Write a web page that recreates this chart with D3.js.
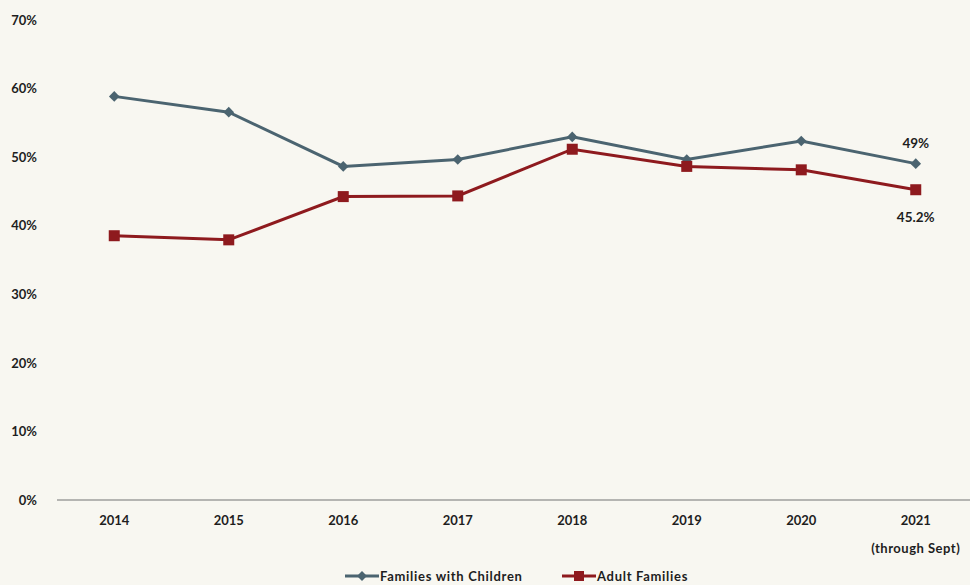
<!DOCTYPE html>
<html>
<head>
<meta charset="utf-8">
<script src="https://cdn.jsdelivr.net/npm/d3@7"></script>
<style>
  html, body { margin: 0; padding: 0; background: #f8f7f1; }
  svg { display: block; }
  text { font-family: Lato, "Open Sans", sans-serif; font-weight: 700; fill: #1e1e1e; }
</style>
</head>
<body>
<svg id="chart" width="970" height="585"></svg>
<script>
const years = ["2014", "2015", "2016", "2017", "2018", "2019", "2020", "2021"];
const familiesWithChildren = [58.8, 56.5, 48.6, 49.6, 52.9, 49.6, 52.3, 49];
const adultFamilies = [38.5, 37.9, 44.2, 44.3, 51.1, 48.6, 48.1, 45.2];
const yTicks = [0, 10, 20, 30, 40, 50, 60, 70];
const seriesNames = ["Families with Children", "Adult Families"];
const seriesColors = ["#4b6470", "#8e1a1e"];

const svg = d3.select("#chart");
const margin = { left: 57, right: -3, top: 20, bottom: 85 };
const W = 970, H = 585;

const x = d3.scaleBand().domain(years).range([margin.left, W - margin.right]);
const y = d3.scaleLinear().domain([0, 70]).range([500, 19.5]);

// Y axis labels (no axis line)
const yAxis = d3.axisLeft(y).tickValues(yTicks).tickFormat(d => d + "%").tickSize(0);
const gy = svg.append("g").attr("transform", "translate(40,0)").call(yAxis);
gy.select(".domain").remove();
gy.selectAll("text").attr("font-size", 13).attr("dx", 0).attr("dy", "0.35em");

// X axis baseline and labels
const xAxis = d3.axisBottom(x).tickSize(0).tickPadding(16);
const gx = svg.append("g").attr("transform", "translate(0,500)").call(xAxis);
gx.select(".domain").attr("stroke", "#b5b5b2").attr("stroke-width", 2)
  .attr("d", `M${margin.left},0H${W}`);
gx.selectAll("text").attr("font-size", 13);
gx.append("text")
  .attr("x", x("2021") + x.bandwidth() / 2)
  .attr("y", 53)
  .attr("text-anchor", "middle")
  .attr("font-size", 13)
  .attr("letter-spacing", 0.5)
  .text("(through Sept)");

const cx = d => x(d) + x.bandwidth() / 2;
const line = d3.line().x(d => cx(d.year)).y(d => y(d.value));

const series = [familiesWithChildren, adultFamilies].map((vals, i) => ({
  name: seriesNames[i],
  color: seriesColors[i],
  points: years.map((yr, j) => ({ year: yr, value: vals[j] }))
}));

// Lines
series.forEach(s => {
  svg.append("path")
    .datum(s.points)
    .attr("fill", "none")
    .attr("stroke", s.color)
    .attr("stroke-width", 3)
    .attr("d", line);
});

// Diamond markers: squares rotated by 45 degrees
const dSide = 7.5;
svg.append("g").selectAll("rect")
  .data(series[0].points)
  .join("rect")
  .attr("x", -dSide / 2).attr("y", -dSide / 2)
  .attr("width", dSide).attr("height", dSide)
  .attr("transform", d => `translate(${cx(d.year)},${y(d.value)}) rotate(45)`)
  .attr("fill", series[0].color);

svg.append("g").selectAll("rect")
  .data(series[1].points)
  .join("rect")
  .attr("x", d => cx(d.year) - 5.5)
  .attr("y", d => y(d.value) - 5.5)
  .attr("width", 11)
  .attr("height", 11)
  .attr("fill", series[1].color);

// Value labels on the last year
const last = years.length - 1;
svg.append("text")
  .attr("x", cx(years[last]))
  .attr("y", y(familiesWithChildren[last]) - 16)
  .attr("text-anchor", "middle")
  .attr("font-size", 13.5)
  .text(familiesWithChildren[last] + "%");
svg.append("text")
  .attr("x", cx(years[last]))
  .attr("y", y(adultFamilies[last]) + 32)
  .attr("text-anchor", "middle")
  .attr("font-size", 13.5)
  .text(adultFamilies[last].toFixed(1) + "%");

// Legend
const legend = svg.append("g").attr("transform", "translate(345,576)");
const legendX = [0, 217];
series.forEach((s, i) => {
  const g = legend.append("g").attr("transform", `translate(${legendX[i]},0)`);
  g.append("line").attr("x1", 0).attr("x2", 34).attr("y1", 0).attr("y2", 0)
    .attr("stroke", s.color).attr("stroke-width", 3);
  if (i === 0) {
    g.append("rect").attr("x", -3.5).attr("y", -3.5).attr("width", 7).attr("height", 7)
      .attr("transform", "translate(17,0) rotate(45)").attr("fill", s.color);
  } else {
    g.append("rect").attr("x", 12).attr("y", -5).attr("width", 10).attr("height", 10)
      .attr("fill", s.color);
  }
  g.append("text").attr("x", 35).attr("y", 0).attr("dy", "0.35em")
    .attr("font-size", 13).attr("letter-spacing", 0.7).text(s.name);
});
</script>
</body>
</html>
